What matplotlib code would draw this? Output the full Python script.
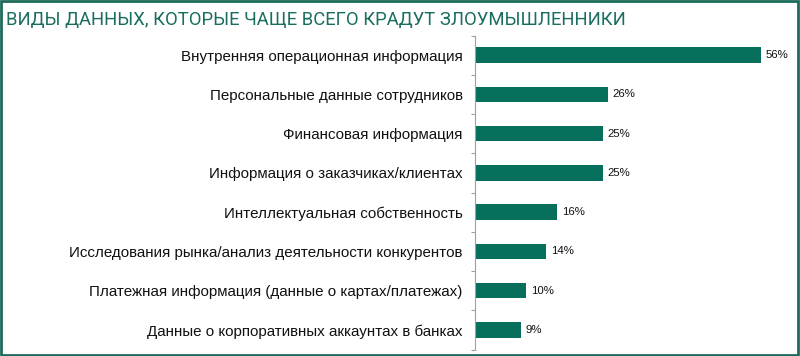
import matplotlib.pyplot as plt
from matplotlib.patches import Rectangle
from matplotlib.ticker import FixedLocator

# Данные
categories = [
    "Внутренняя операционная информация",
    "Персональные данные сотрудников",
    "Финансовая информация",
    "Информация о заказчиках/клиентах",
    "Интеллектуальная собственность",
    "Исследования рынка/анализ деятельности конкурентов",
    "Платежная информация (данные о картах/платежах)",
    "Данные о корпоративных аккаунтах в банках",
]
values = [56, 26, 25, 25, 16, 14, 10, 9]
title = "ВИДЫ ДАННЫХ, КОТОРЫЕ ЧАЩЕ ВСЕГО КРАДУТ ЗЛОУМЫШЛЕННИКИ"

green = "#07705c"
border = "#1d6b5c"

fig = plt.figure(figsize=(8, 3.56), dpi=100)
ax = fig.add_axes([475 / 800, 1 - 349.5 / 356, 315 / 800, 314 / 356])

y = list(range(len(categories)))
ax.barh(y, values, height=0.4, color=green)
for yi, v in zip(y, values):
    ax.text(v + 1.0, yi, f"{v}%", va="center", ha="left", fontsize=8.2,
            family="Liberation Sans", color="#111111")

ax.set_xlim(0, 315 / 5.1)
ax.set_ylim(len(categories) - 0.5, -0.5)
ax.set_yticks(y)
ax.set_yticklabels(categories, fontsize=10.9, family="Liberation Sans", color="#111111")
ax.yaxis.set_minor_locator(FixedLocator([i + 0.5 for i in range(-1, len(categories))]))
ax.tick_params(axis="y", which="major", length=0, pad=9)
ax.tick_params(axis="y", which="minor", length=3, color="#a0a0a0", width=0.8)
ax.set_xticks([])
for s in ["top", "right", "bottom"]:
    ax.spines[s].set_visible(False)
ax.spines["left"].set_color("#a0a0a0")
ax.spines["left"].set_linewidth(0.8)

fig.text(6 / 800, 1 - 20 / 356, title, fontsize=13.3, family="Roboto",
         color="#1a6e60", va="center", ha="left")

fig.patches.append(Rectangle((0.001, 0.002), 0.997, 0.995, transform=fig.transFigure,
                             fill=False, edgecolor=border, linewidth=2))

fig.savefig("out.png", dpi=100)
